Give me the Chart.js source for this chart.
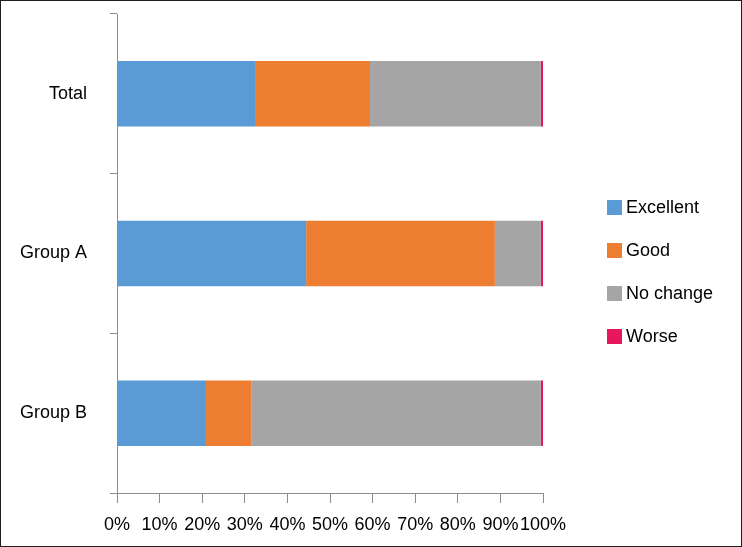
<!DOCTYPE html>
<html><head><meta charset="utf-8">
<script src="https://cdn.jsdelivr.net/npm/chart.js@4/dist/chart.umd.min.js"></script>
<style>
html,body{margin:0;padding:0;background:#fff;}
#wrap{position:relative;width:742px;height:547px;box-sizing:border-box;border:1px solid #1e1e1e;background:#fff;}
canvas{display:block;}
</style></head><body>
<div id="wrap"><canvas id="c" width="740" height="545"></canvas></div>
<script>
const categories = ['Total', 'Group A', 'Group B'];
const excellent = [32.4, 44.4, 20.9];
const good = [27.0, 44.3, 10.6];
const noChange = [40.1, 10.8, 68.0];
const worse = [0.5, 0.5, 0.5];
const seriesNames = ['Excellent', 'Good', 'No change', 'Worse'];
const seriesColors = ['#5B9BD5', '#ED7D31', '#A5A5A5', '#E6175C'];
const xTicks = [0,10,20,30,40,50,60,70,80,90,100];

const FONT = 'Arial, "Liberation Sans", sans-serif';
const values = [excellent, good, noChange, worse];

const legendPlugin = {
  id: 'sideLegend',
  afterDraw(chart) {
    const ctx = chart.ctx;
    ctx.save();
    ctx.font = '18px ' + FONT;
    ctx.textBaseline = 'middle';
    ctx.textAlign = 'left';
    chart.data.datasets.forEach((ds, i) => {
      const y = 206 + i * 43;
      ctx.fillStyle = ds.backgroundColor;
      ctx.fillRect(606, y - 7, 15, 15);
      ctx.fillStyle = '#000';
      ctx.fillText(ds.label, 625, y + 1);
    });
    ctx.restore();
  }
};

new Chart(document.getElementById('c'), {
  type: 'bar',
  data: {
    labels: categories,
    datasets: seriesNames.map((n, i) => ({
      label: n,
      data: values[i],
      backgroundColor: seriesColors[i],
      borderWidth: 0,
      barPercentage: 0.41,
      categoryPercentage: 1
    }))
  },
  options: {
    indexAxis: 'y',
    responsive: false,
    animation: false,
    layout: { padding: { top: 13, right: 198, left: 0, bottom: 0 } },
    plugins: { legend: { display: false }, tooltip: { enabled: false } },
    scales: {
      x: {
        stacked: true,
        min: 0, max: 100,
        afterBuildTicks(scale) { scale.ticks = xTicks.map(v => ({ value: v })); },
        afterFit(scale) { scale.height = 53; },
        grid: { drawOnChartArea: false, drawTicks: true, tickLength: 10, color: '#8c8c8c' },
        border: { display: true, color: '#8c8c8c', width: 1 },
        ticks: { color: '#000', font: { size: 18, family: FONT }, padding: 11, maxRotation: 0, autoSkip: false,
                 callback: v => v + '%' }
      },
      y: {
        stacked: true,
        afterFit(scale) { scale.width = 116; scale.paddingTop = 0; scale.paddingBottom = 0; },
        grid: { offset: true, drawOnChartArea: false, drawTicks: true, tickLength: 7, color: '#8c8c8c' },
        border: { display: true, color: '#8c8c8c', width: 1 },
        ticks: { color: '#000', font: { size: 18, family: FONT }, padding: 23 }
      }
    }
  },
  plugins: [legendPlugin]
});
</script>
</body></html>
